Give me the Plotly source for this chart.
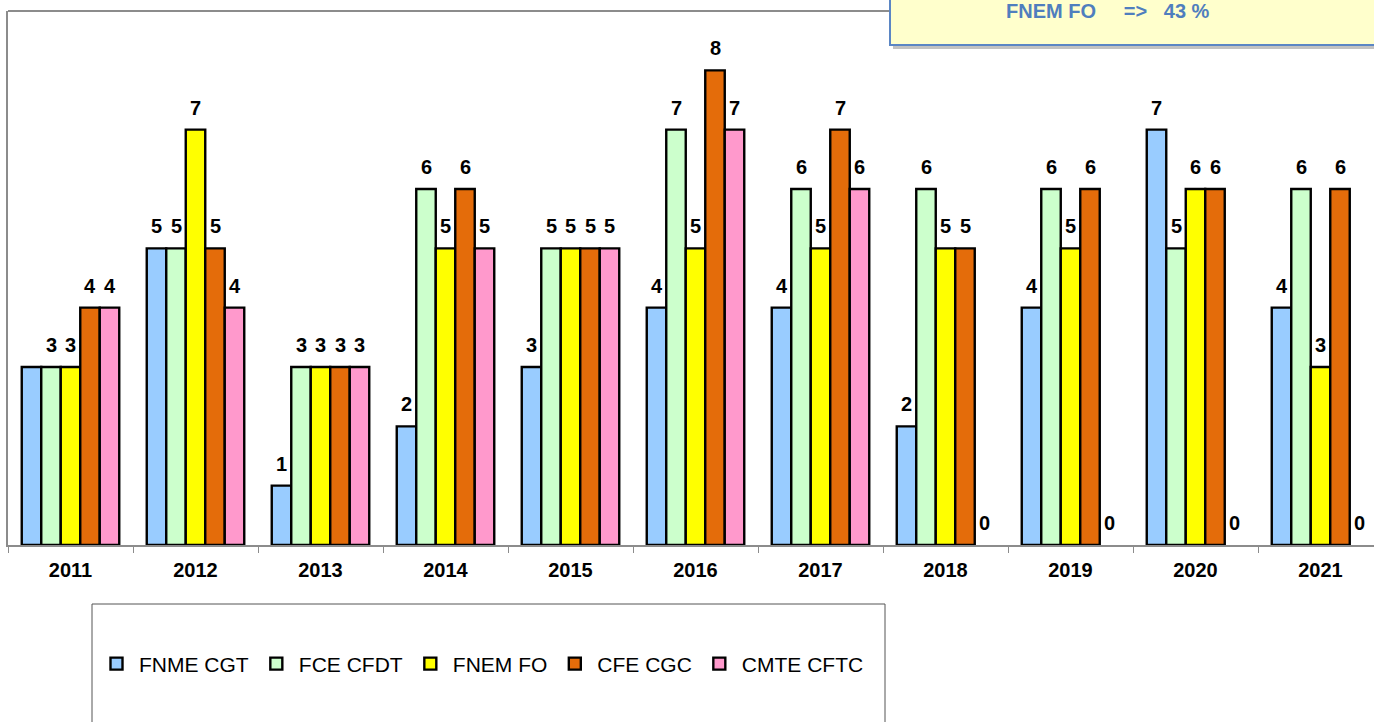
import plotly.graph_objects as go

years = ["2011", "2012", "2013", "2014", "2015", "2016", "2017", "2018", "2019", "2020", "2021"]
series_names = ["FNME CGT", "FCE CFDT", "FNEM FO", "CFE CGC", "CMTE CFTC"]
fnme_cgt = [3, 5, 1, 2, 3, 4, 4, 2, 4, 7, 4]
fce_cfdt = [3, 5, 3, 6, 5, 7, 6, 6, 6, 5, 6]
fnem_fo = [3, 7, 3, 5, 5, 5, 5, 5, 5, 6, 3]
cfe_cgc = [4, 5, 3, 6, 5, 8, 7, 5, 6, 6, 6]
cmte_cftc = [4, 4, 3, 5, 5, 7, 6, 0, 0, 0, 0]
# labels shown in the original (the 2011 CGT label is absent)
show_label = {"FNME CGT": [False] + [True] * 10}
colors = ["#99CCFF", "#CCFFCC", "#FFFF00", "#E46C0A", "#FF99CC"]
note_text = "FNEM FO\u00a0\u00a0\u00a0\u00a0\u00a0=>\u00a0\u00a0\u00a043 %"

W, H = 1374, 722
L, R, T, B = 8, 0, 11, 177
PW, PH = W - L - R, H - T - B
YMAX = 9.0
CAT_PX = 125.0
BARGAP = 0.22


def px_x(px):  # window pixel -> paper fraction
    return (px - L) / PW


def px_y(py):
    return (H - B - py) / PH


font_fam = "Liberation Sans, Arial, sans-serif"
all_vals = [fnme_cgt, fce_cfdt, fnem_fo, cfe_cgc, cmte_cftc]

fig = go.Figure()
for name, vals, col in zip(series_names, all_vals, colors):
    fig.add_trace(go.Bar(
        name=name, x=years, y=vals,
        marker=dict(color=col, line=dict(color="black", width=[0 if v == 0 else 2.4 for v in vals])),
    ))

annotations = []
bw = CAT_PX * (1 - BARGAP) / 5
for i, (name, vals) in enumerate(zip(series_names, all_vals)):
    flags = show_label.get(name, [True] * len(vals))
    for k, (v, f) in enumerate(zip(vals, flags)):
        if not f:
            continue
        annotations.append(dict(
            x=k, y=v, xref="x", yref="y", text=f"<b>{v}</b>", showarrow=False,
            xshift=(i - 2) * bw, yshift=22,
            font=dict(family=font_fam, size=20, color="black"),
        ))

annotations.append(dict(
    x=px_x(1108), y=px_y(11), xref="paper", yref="paper", text=f"<b>{note_text}</b>",
    showarrow=False, xanchor="center", yanchor="middle",
    font=dict(family=font_fam, size=20, color="#4F7EBE"),
))

shapes = [
    # plot-area top border
    dict(type="line", xref="paper", yref="paper", x0=0, x1=1.02, y0=1, y1=1,
         line=dict(color="#8C8C8C", width=2), layer="above"),
    # legend frame
    dict(type="rect", xref="paper", yref="paper", x0=px_x(92), x1=px_x(885),
         y0=px_y(740), y1=px_y(604), line=dict(color="#555555", width=1),
         fillcolor="rgba(0,0,0,0)", layer="above"),
    # note box shadow
    dict(type="rect", xref="paper", yref="paper", x0=px_x(893), x1=px_x(1390),
         y0=px_y(49), y1=px_y(-10), line=dict(width=0),
         fillcolor="rgba(120,120,120,0.45)", layer="above"),
    # note box
    dict(type="rect", xref="paper", yref="paper", x0=px_x(890), x1=px_x(1390),
         y0=px_y(45), y1=px_y(-10), line=dict(color="#5B86C4", width=2),
         fillcolor="#FFFFCC", layer="above"),
]

fig.update_layout(
    width=W, height=H,
    margin=dict(l=L, r=R, t=T, b=B, pad=0, autoexpand=False),
    plot_bgcolor="white", paper_bgcolor="white",
    barmode="group", bargap=BARGAP, bargroupgap=0,
    showlegend=True,
    legend=dict(orientation="h", x=px_x(94), xanchor="left", y=px_y(664), yanchor="middle",
                font=dict(family=font_fam, size=21, color="black"),
                itemwidth=35,
                bgcolor="rgba(0,0,0,0)", borderwidth=0, traceorder="normal"),
    annotations=annotations,
    shapes=shapes,
    xaxis=dict(
        type="category", range=[-0.5, -0.5 + PW / CAT_PX],
        showline=True, linecolor="#8C8C8C", linewidth=2,
        ticks="outside", tickson="boundaries", ticklen=6, tickcolor="#8C8C8C", tickwidth=1,
        tickfont=dict(family=font_fam, size=20, color="black"),
        tickprefix="<b>", ticksuffix="</b>", ticklabelstandoff=6,
        showgrid=False, zeroline=False,
    ),
    yaxis=dict(
        range=[0, YMAX], showline=True, linecolor="#8C8C8C", linewidth=2,
        showticklabels=False, ticks="", showgrid=False, zeroline=False,
    ),
)

fig.write_html("out.html", config={"displayModeBar": False},
               post_script="document.body.style.margin='0px';")
